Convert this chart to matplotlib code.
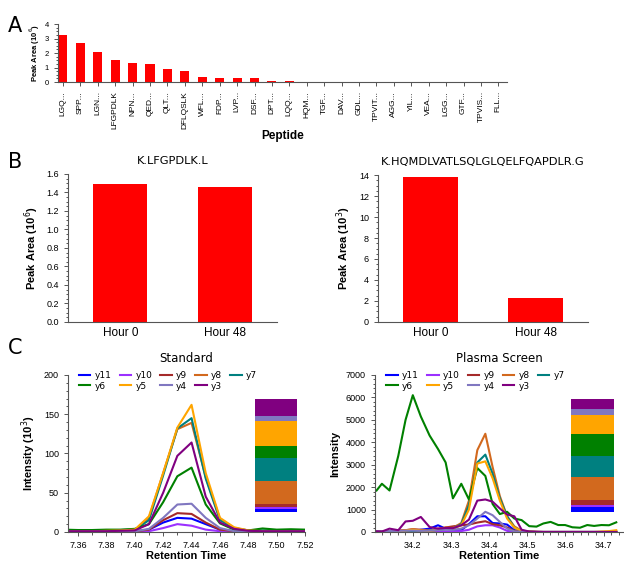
import matplotlib
matplotlib.use("Agg")
import matplotlib.pyplot as plt
from matplotlib.ticker import MultipleLocator

# Panel A data
peptides = ["LGQ...", "SPP...", "LGN...", "LFGPDLK", "NPN...", "QED...", "QLT...",
            "DFLQSLK", "WFL...", "FDP...", "LVP...", "DSF...", "DPT...", "LQQ...",
            "HQM...", "TGF...", "DAV...", "GDL...", "TPVIT...", "AGG...", "YIL...",
            "VEA...", "LGG...", "GTF...", "TPVIS...", "FLL..."]
peak_area = [3.25, 2.7, 2.05, 1.5, 1.3, 1.27, 0.87, 0.75, 0.35, 0.3, 0.25, 0.25,
             0.1, 0.06, 0.01, 0.01, 0.01, 0.01, 0.01, 0.01, 0.01, 0.01, 0.01,
             0.01, 0.01, 0.01]

# Panel B data
hours = ["Hour 0", "Hour 48"]
lfgpdlk = [1.49, 1.455]
hqmdlv = [13.8, 2.25]

# Panel C data
ions = ["y11", "y10", "y9", "y8", "y7", "y6", "y5", "y4", "y3"]
ion_colors = ["#0000FF", "#9B30FF", "#A52A2A", "#D2691E", "#008080",
              "#008000", "#FFA500", "#8077C0", "#800080"]

t_std = [7.35, 7.36, 7.37, 7.38, 7.39, 7.40, 7.41, 7.42, 7.43, 7.44, 7.45,
         7.46, 7.47, 7.48, 7.49, 7.50, 7.51, 7.52]
std = {
    "y11": [0.5, 0.5, 0.5, 0.5, 0.5, 0.5, 3, 12, 18, 17, 10, 3, 1, 0.5, 0.5, 0.5, 0.5, 0.5],
    "y10": [0.3, 0.3, 0.3, 0.3, 0.3, 0.3, 1, 5, 10, 8, 3, 1, 0.3, 0.3, 0.3, 0.3, 0.3, 0.3],
    "y9":  [0.5, 0.5, 0.5, 0.5, 0.5, 0.8, 3, 15, 24, 23, 12, 3, 1, 0.5, 0.5, 0.5, 0.5, 0.5],
    "y8":  [1, 1, 1, 1, 1.5, 2, 18, 75, 131, 139, 70, 17, 5, 2, 1, 1, 1, 1],
    "y7":  [2, 2, 2, 2, 2.5, 3, 15, 72, 132, 145, 68, 15, 5, 2, 2, 2, 2, 2],
    "y6":  [3, 2.5, 2.5, 3, 3, 4, 10, 38, 71, 82, 35, 11, 3, 2, 4.5, 3, 3.5, 3],
    "y5":  [1, 1, 1, 1.5, 2, 3, 20, 75, 133, 162, 75, 18, 6, 2, 1, 1, 1, 1],
    "y4":  [0.5, 0.5, 0.5, 0.5, 0.5, 0.8, 4, 18, 35, 36, 18, 5, 1, 0.5, 0.5, 0.5, 0.5, 0.5],
    "y3":  [1, 1, 1, 1, 1.5, 2, 10, 50, 97, 114, 45, 12, 4, 1.5, 1, 1, 1, 1],
}

t_pl = [34.105, 34.119, 34.139, 34.162, 34.181, 34.200, 34.221, 34.244, 34.266,
        34.286, 34.305, 34.327, 34.347, 34.369, 34.390, 34.409, 34.428, 34.447,
        34.466, 34.485, 34.505, 34.524, 34.542, 34.561, 34.581, 34.599, 34.618,
        34.638, 34.657, 34.675, 34.694, 34.714, 34.733]
plasma = {
    "y11": [0, 0, 0, 0, 20, 50, 100, 150, 300, 150, 100, 80, 350, 700, 700, 400, 380,
            330, 80, 30, 10, 0, 0, 0, 0, 0, 0, 0, 0, 0, 0, 0, 0],
    "y10": [0, 0, 0, 0, 0, 10, 20, 30, 40, 30, 30, 40, 100, 250, 300, 300, 200, 50,
            10, 0, 0, 0, 0, 0, 0, 0, 0, 0, 0, 0, 0, 0, 0],
    "y9":  [20, 30, 40, 60, 80, 120, 100, 60, 100, 200, 250, 300, 330, 420, 480, 350,
            300, 200, 50, 20, 10, 0, 0, 0, 0, 0, 0, 0, 0, 0, 0, 0, 0],
    "y8":  [0, 10, 20, 50, 80, 120, 80, 60, 150, 200, 180, 400, 1400, 3650, 4380, 2900,
            1600, 700, 250, 60, 20, 10, 0, 0, 0, 0, 0, 0, 0, 0, 0, 0, 20],
    "y7":  [0, 0, 10, 20, 30, 40, 30, 50, 100, 150, 150, 350, 1200, 3100, 3450, 2600,
            1500, 700, 200, 50, 10, 0, 0, 0, 0, 0, 0, 0, 0, 0, 0, 0, 0],
    "y6":  [1850, 2150, 1850, 3400, 5000, 6100, 5150, 4300, 3700, 3100, 1500, 2150,
            1450, 2850, 2500, 1250, 800, 900, 600, 530, 260, 240, 380, 450, 310,
            310, 210, 190, 310, 270, 310, 300, 430],
    "y5":  [0, 0, 10, 30, 60, 100, 60, 40, 100, 150, 150, 300, 1000, 3050, 3150, 2400,
            1400, 600, 200, 50, 10, 0, 0, 0, 0, 0, 0, 0, 0, 0, 20, 40, 80],
    "y4":  [30, 30, 40, 50, 60, 60, 50, 60, 80, 100, 100, 150, 300, 600, 900, 750,
            450, 150, 30, 10, 0, 0, 0, 0, 0, 0, 0, 0, 0, 0, 0, 0, 0],
    "y3":  [30, 20, 150, 80, 470, 500, 670, 220, 150, 180, 170, 300, 550, 1400, 1450,
            1350, 1050, 780, 700, 100, 20, 10, 0, 0, 0, 0, 0, 0, 0, 0, 0, 0, 0],
}

# relative ion abundance for the stacked bars (bottom to top)
frac_std = [10, 4, 10, 68, 69, 35, 75, 15, 50]
frac_pl = [16, 5, 15, 68, 65, 64, 58, 17, 30]

tick_font = "Liberation Sans"
spine_col = "#555555"

plt.rcParams["font.family"] = ["DejaVu Sans"]

fig = plt.figure(figsize=(6.24, 5.68), dpi=100)


def style_axes(ax, size):
    for s in ["top", "right"]:
        ax.spines[s].set_visible(False)
    for s in ["left", "bottom"]:
        ax.spines[s].set_color(spine_col)
        ax.spines[s].set_linewidth(0.8)
    ax.tick_params(which="both", direction="out", color=spine_col, width=0.7,
                   labelsize=size)
    ax.tick_params(which="major", length=3)
    ax.tick_params(which="minor", length=1.8)
    for lab in ax.get_xticklabels() + ax.get_yticklabels():
        lab.set_fontfamily(tick_font)


# ---------- Panel A ----------
axA = fig.add_axes([0.093, 0.8556, 0.7196, 0.102])
axA.bar(range(len(peptides)), peak_area, width=0.52, color="#FF0000")
axA.set_xlim(-0.28, len(peptides) - 0.5)
axA.set_ylim(0, 4)
axA.set_xticks(range(len(peptides)))
axA.set_xticklabels(peptides, rotation=90)
axA.set_yticks([0, 1, 2, 3, 4])
axA.yaxis.set_minor_locator(MultipleLocator(0.25))
style_axes(axA, 6)
axA.tick_params(axis="y", labelsize=5.5)
axA.set_ylabel("Peak Area (10$^{6}$)", fontsize=5.5, fontweight="bold",
               family=tick_font, labelpad=2)
axA.set_xlabel("Peptide", fontsize=8.5, fontweight="bold", family=tick_font, labelpad=1)

# ---------- Panel B ----------
axB1 = fig.add_axes([0.109, 0.4331, 0.335, 0.2606])
axB1.bar(hours, lfgpdlk, width=0.52, color="#FF0000")
axB1.set_xlim(-0.5, 1.5)
axB1.set_ylim(0, 1.6)
axB1.set_yticks([0, 0.2, 0.4, 0.6, 0.8, 1.0, 1.2, 1.4, 1.6])
axB1.set_yticklabels(["0.0", "0.2", "0.4", "0.6", "0.8", "1.0", "1.2", "1.4", "1.6"])
axB1.yaxis.set_minor_locator(MultipleLocator(0.05))
style_axes(axB1, 6.5)
axB1.tick_params(axis="x", labelsize=8.5, length=0)
axB1.set_ylabel("Peak Area (10$^{6}$)", fontsize=8, fontweight="bold", family=tick_font)
axB1.set_title("K.LFGPDLK.L", fontsize=8.2, pad=7)

axB2 = fig.add_axes([0.6058, 0.4331, 0.3365, 0.2588])
axB2.bar(hours, hqmdlv, width=0.52, color="#FF0000")
axB2.set_xlim(-0.5, 1.5)
axB2.set_ylim(0, 14)
axB2.set_yticks([0, 2, 4, 6, 8, 10, 12, 14])
axB2.yaxis.set_minor_locator(MultipleLocator(0.5))
style_axes(axB2, 6.5)
axB2.tick_params(axis="x", labelsize=8.5, length=0)
axB2.set_ylabel("Peak Area (10$^{3}$)", fontsize=8, fontweight="bold", family=tick_font)
axB2.set_title("K.HQMDLVATLSQLGLQELFQAPDLR.G", fontsize=8.2, pad=7)


# ---------- Panel C ----------
def chromatogram(ax, t, series, fracs):
    lines = {}
    for ion, col in zip(ions, ion_colors):
        ln, = ax.plot(t, series[ion], color=col, linewidth=1.5, label=ion)
        lines[ion] = ln
    order = ["y11", "y6", "y10", "y5", "y9", "y4", "y8", "y3", "y7"]
    ax.legend([lines[k] for k in order], order, ncol=5, loc="upper left",
              bbox_to_anchor=(0.03, 1.05), frameon=False, fontsize=6.5,
              handlelength=1.3, handletextpad=0.45, columnspacing=0.9,
              labelspacing=0.2, borderaxespad=0)
    # stacked relative abundance bar
    ins = ax.inset_axes([0.79, 0.127, 0.175, 0.72])
    total = sum(fracs)
    bottom = 0
    for f, col in zip(fracs, ion_colors):
        ins.bar(0, f / total, bottom=bottom, width=1, color=col)
        bottom += f / total
    ins.set_xlim(-0.5, 0.5)
    ins.set_ylim(0, 1)
    ins.axis("off")


axC1 = fig.add_axes([0.109, 0.0634, 0.380, 0.2764])
chromatogram(axC1, t_std, std, frac_std)
axC1.set_xlim(7.353, 7.52)
axC1.set_ylim(0, 200)
axC1.set_xticks([7.36, 7.38, 7.40, 7.42, 7.44, 7.46, 7.48, 7.50, 7.52])
axC1.set_xticklabels(["7.36", "7.38", "7.40", "7.42", "7.44", "7.46", "7.48", "7.50", "7.52"])
axC1.xaxis.set_minor_locator(MultipleLocator(0.01))
axC1.set_yticks([0, 50, 100, 150, 200])
axC1.yaxis.set_minor_locator(MultipleLocator(10))
style_axes(axC1, 6.5)
axC1.set_xlabel("Retention Time", fontsize=8, fontweight="bold", family=tick_font, labelpad=1)
axC1.set_ylabel("Intensity (10$^{3}$)", fontsize=8, fontweight="bold", family=tick_font)
axC1.set_title("Standard", fontsize=8.5, pad=9)

axC2 = fig.add_axes([0.601, 0.0634, 0.397, 0.2764])
chromatogram(axC2, t_pl, plasma, frac_pl)
axC2.set_xlim(34.101, 34.75)
axC2.set_ylim(0, 7000)
axC2.set_xticks([34.2, 34.3, 34.4, 34.5, 34.6, 34.7])
axC2.xaxis.set_minor_locator(MultipleLocator(0.02))
axC2.set_yticks([0, 1000, 2000, 3000, 4000, 5000, 6000, 7000])
axC2.yaxis.set_minor_locator(MultipleLocator(200))
style_axes(axC2, 6.5)
axC2.set_xlabel("Retention Time", fontsize=8, fontweight="bold", family=tick_font, labelpad=1)
axC2.set_ylabel("Intensity", fontsize=8, fontweight="bold", family=tick_font)
axC2.set_title("Plasma Screen", fontsize=8.5, pad=9)

# panel letters
fig.text(0.013, 0.955, "A", fontsize=15, va="center")
fig.text(0.013, 0.715, "B", fontsize=15, va="center")
fig.text(0.013, 0.387, "C", fontsize=15, va="center")

fig.savefig("out.png", dpi=100)
